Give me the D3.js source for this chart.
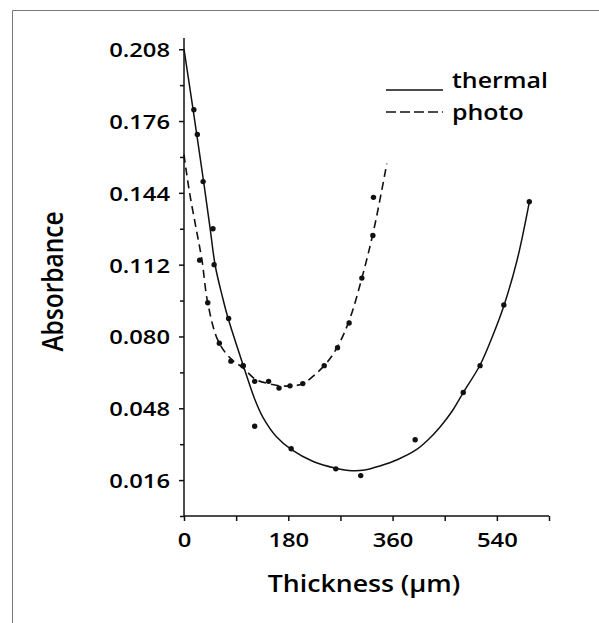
<!DOCTYPE html>
<html>
<head>
<meta charset="utf-8">
<script src="https://cdn.jsdelivr.net/npm/d3@7"></script>
<style>
	body { margin: 0; background: #fff; }
	svg { display: block; font-family: "Open Sans", sans-serif; font-weight: 600; }
</style>
</head>
<body>
<svg></svg>
<script>

// measured points
let thermalX = [17, 23, 33, 50, 52, 77, 102, 122, 185, 262, 305, 399, 482, 511, 552, 596];
let thermalY = [0.181, 0.170, 0.149, 0.128, 0.112, 0.088, 0.067, 0.040, 0.030, 0.021, 0.018, 0.034, 0.055, 0.067, 0.094, 0.140];

let photoX = [27, 41, 61, 81, 102, 122, 146, 164, 183, 205, 242, 265, 285, 307, 326, 327];
let photoY = [0.114, 0.095, 0.077, 0.069, 0.067, 0.060, 0.060, 0.057, 0.058, 0.059, 0.067, 0.075, 0.086, 0.106, 0.125, 0.142];

// fitted curves
let thermalFitX = [0, 16, 34, 45, 54, 66, 76, 102, 122, 136, 160, 185, 223, 262, 290, 312, 338, 369, 399, 421, 442, 463, 482, 511, 532, 552, 575, 596];
let thermalFitY = [0.208, 0.1805, 0.1488, 0.1283, 0.1114, 0.098, 0.0882, 0.0673, 0.0521, 0.0441, 0.0352, 0.0297, 0.0243, 0.0213, 0.0202, 0.0205, 0.0223, 0.0252, 0.0292, 0.0339, 0.0397, 0.0468, 0.0550, 0.0673, 0.0798, 0.0936, 0.1141, 0.1399];

let photoFitX = [0, 9, 21, 31, 41, 59, 81, 102, 123, 145, 166, 186, 205, 242, 264, 285, 307, 328, 350];
let photoFitY = [0.161, 0.145, 0.128, 0.114, 0.095, 0.078, 0.070, 0.066, 0.061, 0.059, 0.058, 0.058, 0.059, 0.067, 0.075, 0.087, 0.106, 0.128, 0.157];

let yTicks = [0.016, 0.048, 0.080, 0.112, 0.144, 0.176, 0.208];
let yMinor = [0, 0.032, 0.064, 0.096, 0.128, 0.160, 0.192];
let xTicks = [0, 180, 360, 540];
let xMinor = [90, 270, 450, 630];

let seriesNames = ['thermal', 'photo'];

let width = 599;
let height = 623;
let stretch = 1.16; // the scanned type is a bit wide

let svg = d3.select('svg')
	.attr('width', width)
	.attr('height', height);

let x = d3.scaleLinear().domain([0, 630]).range([184, 549]);
let y = d3.scaleLinear().domain([0, 0.213]).range([516, 38]);

// page frame (top and left edge of the scan)
svg.append('path')
	.attr('d', 'M12.5,623V10.5H599')
	.attr('fill', 'none')
	.attr('stroke', '#777')
	.attr('stroke-width', 1);

// y axis
let yAxis = svg.append('g')
	.attr('transform', 'translate(' + x(0) + ',0)')
	.call(d3.axisLeft(y).tickValues(yTicks).tickFormat(d3.format('.3f')).tickSize(5).tickSizeOuter(0));

svg.append('g')
	.attr('transform', 'translate(' + x(0) + ',0)')
	.call(d3.axisLeft(y).tickValues(yMinor).tickFormat('').tickSize(4).tickSizeOuter(0))
	.select('.domain').remove();

yAxis.select('.domain')
	.attr('d', 'M0,' + y(0) + 'V38');

yAxis.selectAll('text')
	.attr('x', 0)
	.attr('dy', '0.36em')
	.attr('transform', 'translate(-14,0) scale(' + stretch + ',1)')
	.style('font-size', '20.5px')
	.style('font-family', '"Open Sans", sans-serif')
	.attr('fill', '#000');

// x axis
let xAxis = svg.append('g')
	.attr('transform', 'translate(0,' + y(0) + ')')
	.call(d3.axisBottom(x).tickValues(xTicks).tickFormat(d3.format('d')).tickSize(5).tickSizeOuter(0));

svg.append('g')
	.attr('transform', 'translate(0,' + y(0) + ')')
	.call(d3.axisBottom(x).tickValues(xMinor).tickFormat('').tickSize(5).tickSizeOuter(0))
	.select('.domain').remove();

xAxis.select('.domain')
	.attr('d', 'M' + x(0) + ',0H' + x(630));

xAxis.selectAll('text')
	.attr('y', 0)
	.attr('dy', 0)
	.attr('transform', 'translate(0,31) scale(' + stretch + ',1)')
	.style('font-size', '20.5px')
	.style('font-family', '"Open Sans", sans-serif')
	.attr('fill', '#000');

svg.selectAll('.domain, .tick line')
	.attr('stroke', '#111')
	.attr('stroke-width', 1.5);

// axis titles
svg.append('text')
	.attr('transform', 'translate(364,591.5) scale(' + stretch + ',1)')
	.attr('text-anchor', 'middle')
	.style('font-size', '23px')
	.attr('fill', '#000')
	.text('Thickness (\u03bcm)');

svg.append('text')
	.attr('transform', 'translate(63,281.5) scale(' + stretch + ',1) rotate(-90)')
	.attr('text-anchor', 'middle')
	.style('font-size', '24.5px')
	.attr('fill', '#000')
	.text('Absorbance');

// curves
let line = d3.line()
	.x(function(d) { return x(d[0]); })
	.y(function(d) { return y(d[1]); })
	.curve(d3.curveCatmullRom.alpha(0.5));

let thermalFit = thermalFitX.map(function(v, i) { return [v, thermalFitY[i]]; });
let photoFit = photoFitX.map(function(v, i) { return [v, photoFitY[i]]; });

svg.append('path')
	.datum(thermalFit)
	.attr('d', line)
	.attr('fill', 'none')
	.attr('stroke', '#111')
	.attr('stroke-width', 1.5);

svg.append('path')
	.datum(photoFit)
	.attr('d', line)
	.attr('fill', 'none')
	.attr('stroke', '#111')
	.attr('stroke-width', 1.6)
	.attr('stroke-dasharray', '8,5');

// data points
let thermalPts = thermalX.map(function(v, i) { return [v, thermalY[i]]; });
let photoPts = photoX.map(function(v, i) { return [v, photoY[i]]; });

svg.append('g')
	.selectAll('circle')
	.data(thermalPts.concat(photoPts))
	.enter()
	.append('circle')
	.attr('cx', function(d) { return x(d[0]); })
	.attr('cy', function(d) { return y(d[1]); })
	.attr('r', 2.7)
	.attr('fill', '#111');

// legend: solid sample sits under "thermal", dashed one runs through "photo"
let legendLineY = [90, 112];
let legendTextY = [88, 119.5];

let legend = svg.append('g')
	.selectAll('g')
	.data(seriesNames)
	.enter()
	.append('g');

legend.append('line')
	.attr('x1', 386)
	.attr('x2', 443)
	.attr('y1', function(d, i) { return legendLineY[i]; })
	.attr('y2', function(d, i) { return legendLineY[i]; })
	.attr('stroke', '#111')
	.attr('stroke-width', 1.3)
	.attr('stroke-dasharray', function(d, i) { return i == 1 ? '10,4' : null; });

legend.append('text')
	.attr('transform', function(d, i) { return 'translate(452,' + legendTextY[i] + ') scale(' + stretch + ',1)'; })
	.style('font-size', '21.5px')
	.attr('fill', '#000')
	.text(function(d) { return d; });

</script>
</body>
</html>
